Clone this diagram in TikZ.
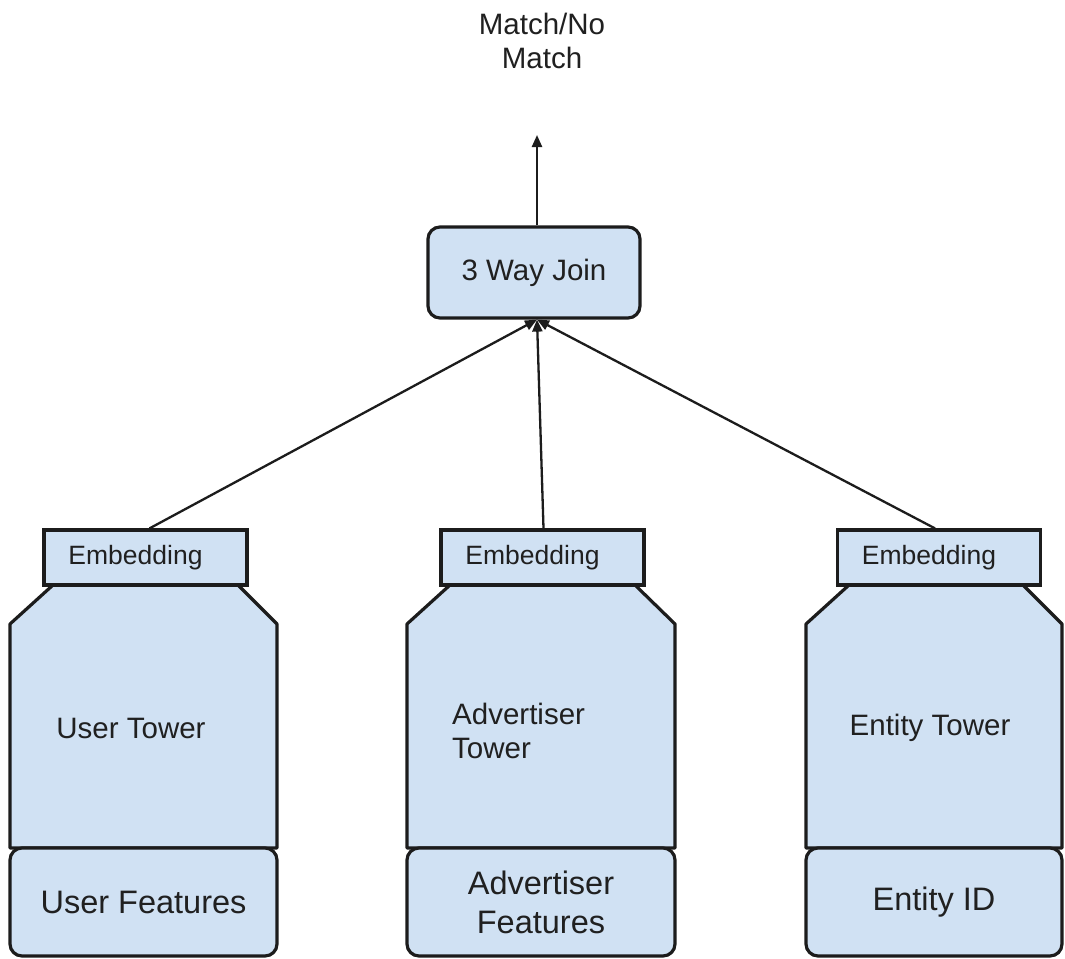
\documentclass[tikz,border=0pt]{standalone}
\usepackage{fontspec}
\setmainfont{Liberation Sans}
\usetikzlibrary{arrows.meta}
\definecolor{boxfill}{RGB}{208,225,243}
\definecolor{ink}{RGB}{28,28,28}
\definecolor{txt}{RGB}{32,32,32}
\begin{document}
\begin{tikzpicture}[x=1pt,y=-1pt,
  shapeline/.style={draw=ink, line width=3.2pt, fill=boxfill},
  bodyshape/.style={shapeline, line join=round},
  featbox/.style={shapeline, rounded corners=12pt, minimum height=108pt, inner sep=0pt, align=center, font=\fontsize{32.5}{39}\selectfont, text=txt},
  embbox/.style={shapeline, minimum width=203pt, minimum height=55pt, inner sep=0pt, font=\fontsize{26.5}{32}\selectfont, text=txt},
  joinbox/.style={shapeline, rounded corners=12pt, minimum width=212pt, minimum height=91pt, inner sep=0pt, font=\fontsize{29.5}{36}\selectfont, text=txt},
  towerlabel/.style={font=\fontsize{29.5}{34}\selectfont, text=txt, align=left, inner sep=0pt},
  conn/.style={draw=ink, line width=2.3pt, -{Triangle[length=12pt,width=10pt]}},
]
\useasboundingbox (0,0) rectangle (1065,958);
\fill[white] (0,0) rectangle (1065,958);

% tower bodies
\draw[bodyshape] (10,624) -- (53,585) -- (238,585) -- (277,624) -- (277,848) -- (10,848) -- cycle;
\draw[bodyshape] (407,624) -- (450,585) -- (635,585) -- (675,624) -- (675,848) -- (407,848) -- cycle;
\draw[bodyshape] (806,624) -- (849,585) -- (1023,585) -- (1062,624) -- (1062,848) -- (806,848) -- cycle;

% tower labels
\node[towerlabel] (ut) at (131,728) {User Tower};
\node[towerlabel, anchor=west] (at) at (452,731) {Advertiser\\Tower};
\node[towerlabel] (et) at (930,728) {Entity Tower};

% feature boxes
\node[featbox, minimum width=267pt] (uf) at (143.5,902) {User Features};
\node[featbox, minimum width=268pt] (af) at (541,902) {Advertiser\\Features};
\node[featbox, minimum width=256pt] (ef) at (934,902) {Entity ID};

% embedding boxes
\node[embbox] (ue) at (145.5,557.5) {\hspace*{-20pt}Embedding};
\node[embbox] (ae) at (542.5,557.5) {\hspace*{-20pt}Embedding};
\node[embbox] (ee) at (939,557.5) {\hspace*{-20pt}Embedding};

% join
\node[joinbox] (join) at (534,272.5) {3 Way Join};

% output label
\node[towerlabel, align=center] (match) at (542,41) {Match/No\\Match};
\coordinate (mtip) at (537,135);

% connectors
\draw[conn] (join.north -| mtip) -- (mtip);
\draw[conn] ([xshift=4pt]ue.north) -- ([xshift=3pt]join.south);
\draw[conn] ([xshift=1pt]ae.north) -- ([xshift=3pt]join.south);
\draw[conn] ([xshift=-4pt]ee.north) -- ([xshift=3pt]join.south);
\end{tikzpicture}
\end{document}
